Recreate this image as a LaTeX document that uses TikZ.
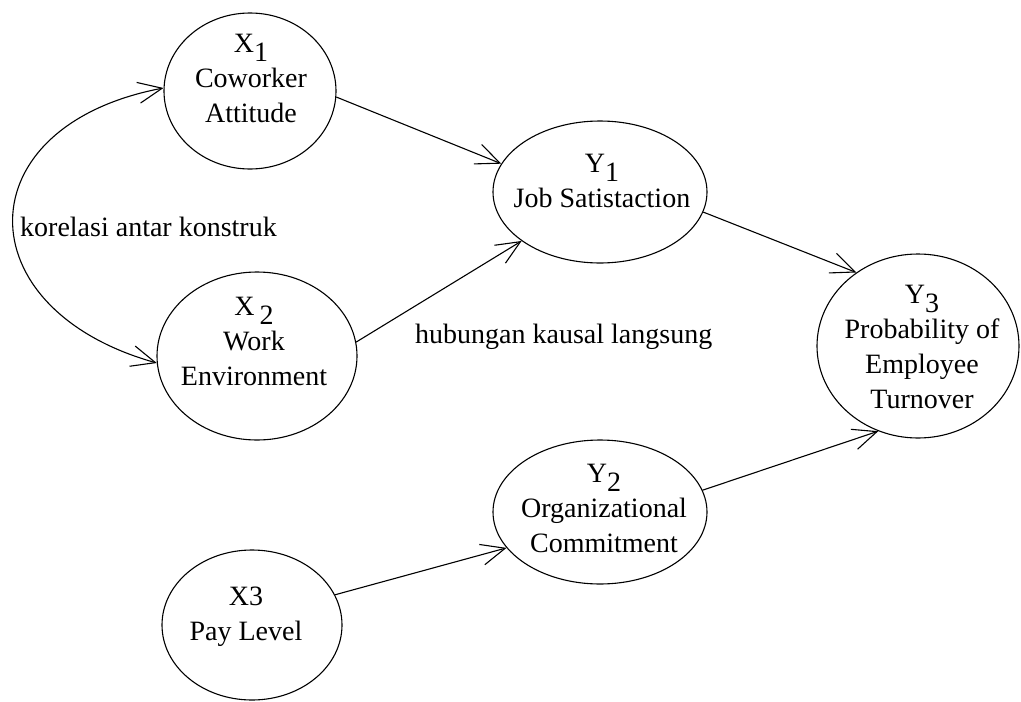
\documentclass[tikz,border=0pt]{standalone}
\usepackage{fontspec}
\setmainfont{Liberation Serif}
\usetikzlibrary{arrows.meta,shapes.geometric}
% lowered index digit, as in X1, Y2
\newcommand{\sbs}[1]{\raisebox{-9pt}{#1}}

\begin{document}
\begin{tikzpicture}[x=1pt,y=-1pt,
  latent/.style={draw, ellipse, line width=1.1pt, inner sep=0pt},
  % multi-line labels are placed by the baseline of their last line
  lbl/.style={align=center, font=\fontsize{28}{35}\selectfont, anchor=base, inner sep=0pt},
  note/.style={font=\fontsize{28}{35}\selectfont, anchor=base west, inner sep=0pt},
  barb/.tip={Straight Barb[length=24pt,width=21pt,line width=1.1pt]},
  causal/.style={line width=1.1pt, -barb},
]
\useasboundingbox[fill=white] (0,0) rectangle (1021,702);

% constructs
\node[latent, minimum width=172pt, minimum height=156pt] (X1) at (250,91) {};
\node[latent, minimum width=200pt, minimum height=168pt] (X2) at (257,356) {};
\node[latent, minimum width=180pt, minimum height=150pt] (X3) at (252,625) {};
\node[latent, minimum width=214pt, minimum height=142pt] (Y1) at (600,192) {};
\node[latent, minimum width=214pt, minimum height=144pt] (Y2) at (600,512) {};
\node[latent, minimum width=202pt, minimum height=184pt] (Y3) at (918,346) {};

% construct labels
\node[lbl] (X1t) at (251,122) {X\sbs{1}\\Coworker\\Attitude};
\node[lbl] (X2t) at (254,385) {X\hspace{5pt}\sbs{2}\\Work\\Environment};
\node[lbl] (X3t) at (246,640) {X3\\Pay Level};
\node[lbl] (Y1t) at (602,207) {Y\sbs{1}\\Job Satistaction};
\node[lbl] (Y2t) at (604,552) {Y\sbs{2}\\Organizational\\Commitment};
\node[lbl] (Y3t) at (922,408) {Y\sbs{3}\\Probability of\\Employee\\Turnover};

% direct causal paths
\draw[causal] (X1.-4.7) -- (Y1.164);
\draw[causal] (X2.8)    -- (Y1.212);
\draw[causal] (Y1.-11.4) -- (Y3.130);
\draw[causal] (Y2.12)   -- (Y3.245);
\draw[causal] (X3.20)   -- (Y2.201);

% correlation between exogenous constructs
\draw[line width=1.1pt, barb-barb] (X1.178) .. controls (-36,126) and (-36,309) .. (X2.184);

% annotations
\node[note] (korelasi) at (20,236) {korelasi antar konstruk};
\node[note] (kausal) at (415,343) {hubungan kausal langsung};
\end{tikzpicture}
\end{document}
